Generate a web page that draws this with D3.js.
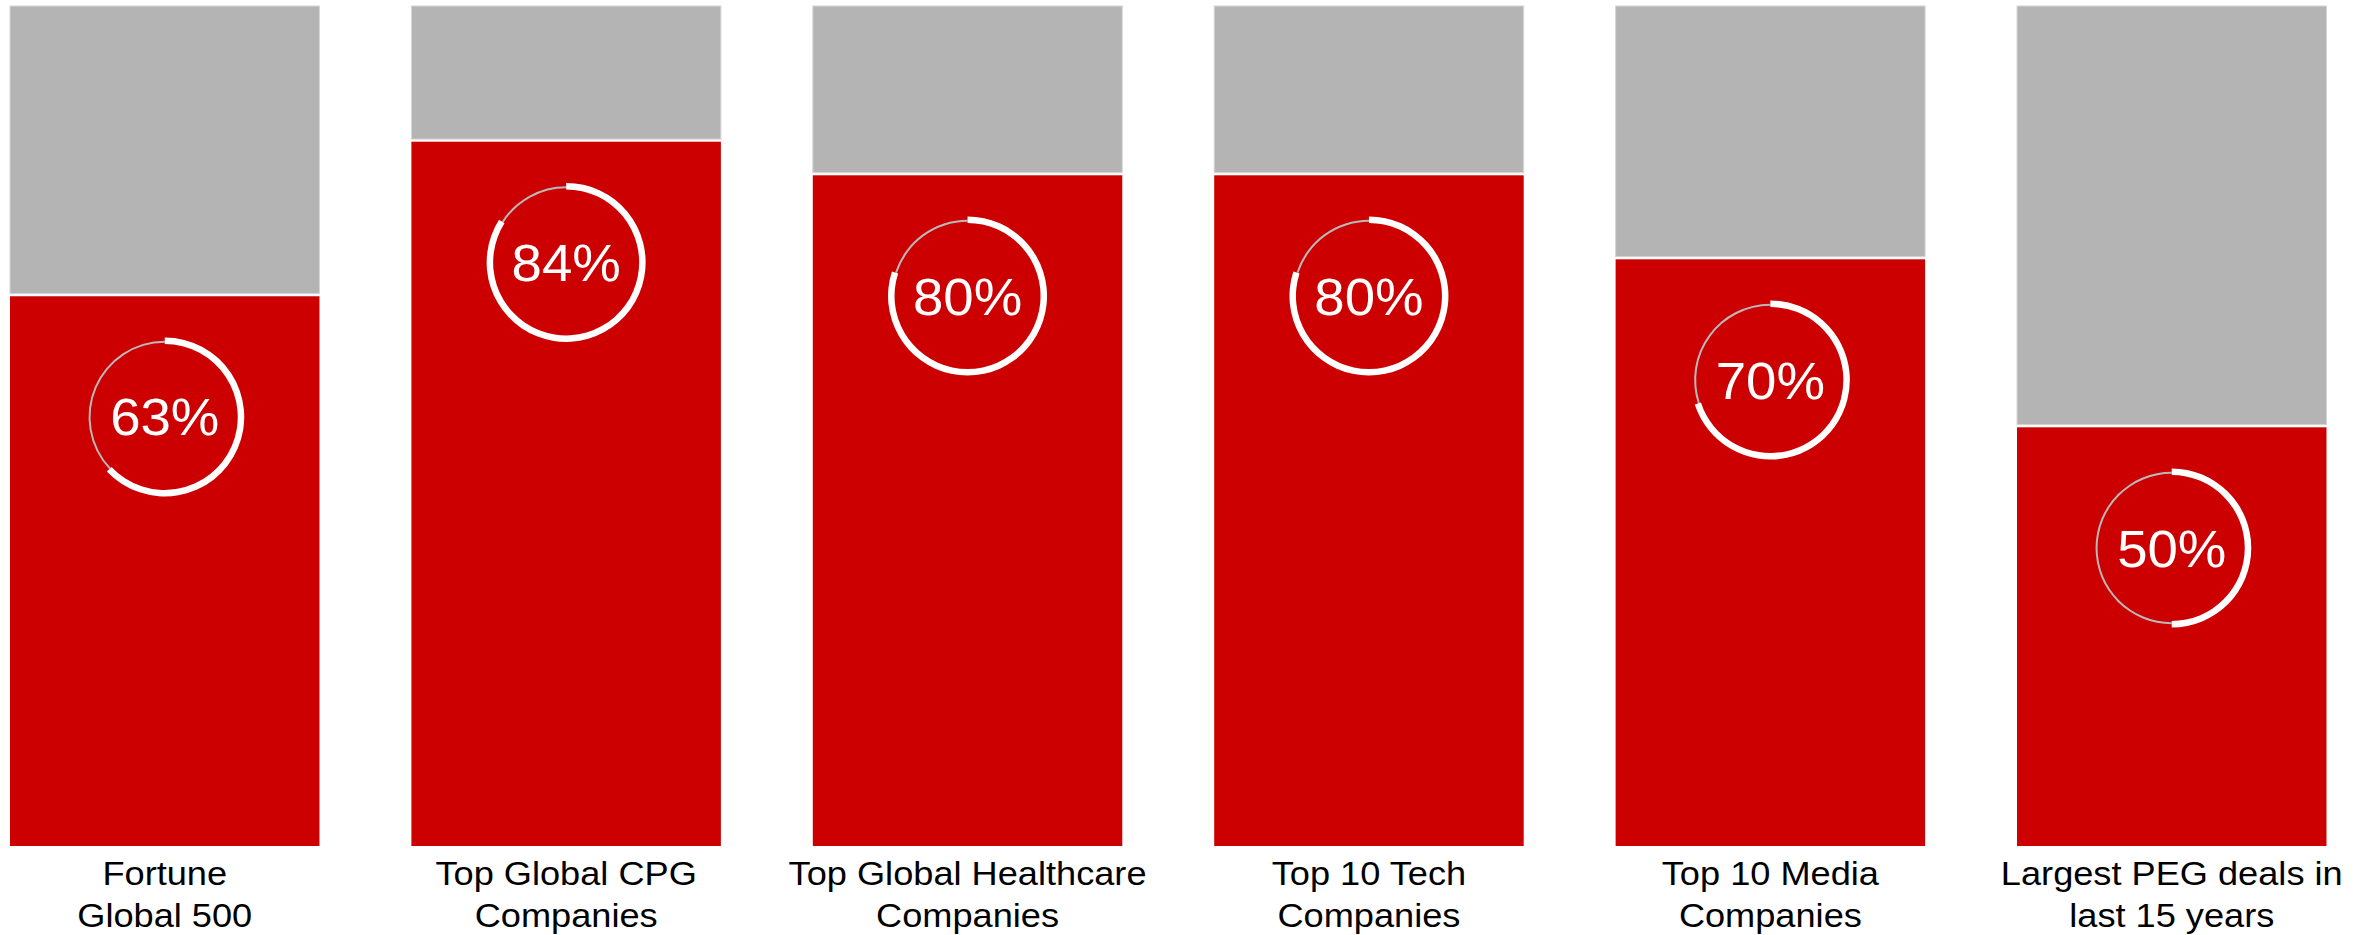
<!DOCTYPE html>
<html>
<head>
<meta charset="utf-8">
<script src="https://cdn.jsdelivr.net/npm/d3@7"></script>
<style>
  html, body { margin: 0; padding: 0; background: #fff; }
  text { font-family: "Liberation Sans", Arial, sans-serif; }
</style>
</head>
<body>
<svg id="chart" width="2377" height="935"></svg>
<script>
const categories = [
  ["Fortune", "Global 500"],
  ["Top Global CPG", "Companies"],
  ["Top Global Healthcare", "Companies"],
  ["Top 10 Tech", "Companies"],
  ["Top 10 Media", "Companies"],
  ["Largest PEG deals in", "last 15 years"]
];
// height of red part as drawn in the picture
const barValues = [65.6, 84, 80, 80, 70, 50];
// value printed in the ring
const ringValues = [63, 84, 80, 80, 70, 50];

const svg = d3.select("#chart");
const keys = d3.range(categories.length);

const x = d3.scaleBand().domain(keys).range([10, 2326.5]).paddingInner(0.229).paddingOuter(0);
const y = d3.scaleLinear().domain([0, 100]).range([846, 6]);

const gap = 1.3;

// grey (remainder) segment
svg.selectAll("rect.rest").data(keys).join("rect")
  .attr("class", "rest")
  .attr("x", i => x(i)).attr("width", x.bandwidth())
  .attr("y", y(100)).attr("height", i => y(barValues[i]) - y(100) - gap)
  .attr("fill", "#b4b4b4")
  .attr("stroke", "#d6d6d6").attr("stroke-width", 1);

// red segment
svg.selectAll("rect.val").data(keys).join("rect")
  .attr("class", "val")
  .attr("x", i => x(i)).attr("width", x.bandwidth())
  .attr("y", i => y(barValues[i]) + gap).attr("height", i => y(0) - y(barValues[i]) - gap)
  .attr("fill", "#cc0000");

// rings
const whiteArc = d3.arc().innerRadius(73).outerRadius(79.5);
const greyArc = d3.arc().innerRadius(74.2).outerRadius(76.2);

const rings = svg.selectAll("g.ring").data(keys).join("g")
  .attr("class", "ring")
  .attr("transform", i => `translate(${x(i) + x.bandwidth() / 2},${y(barValues[i]) + 122})`);

rings.append("path")
  .attr("d", i => greyArc({startAngle: ringValues[i] / 100 * 2 * Math.PI, endAngle: 2 * Math.PI}))
  .attr("fill", "#b9b9b9");

rings.append("path")
  .attr("d", i => whiteArc({startAngle: 0, endAngle: ringValues[i] / 100 * 2 * Math.PI}))
  .attr("fill", "#fff");

rings.append("text")
  .attr("text-anchor", "middle")
  .attr("transform", "translate(0,18.5) scale(1.05,1)")
  .attr("fill", "#fff")
  .attr("font-size", 52)
  .text(i => ringValues[i] + "%");

// category labels
const labels = svg.selectAll("g.label").data(keys).join("g")
  .attr("class", "label")
  .attr("transform", i => `translate(${x(i) + x.bandwidth() / 2},0)`);

labels.each(function(i) {
  const g = d3.select(this);
  categories[i].forEach((line, k) => {
    g.append("text")
      .attr("text-anchor", "middle")
      .attr("transform", `translate(0,${885 + k * 42.3}) scale(1.08,1)`)
      .attr("font-size", 33.5)
      .attr("fill", "#000")
      .text(line);
  });
});
</script>
</body>
</html>
